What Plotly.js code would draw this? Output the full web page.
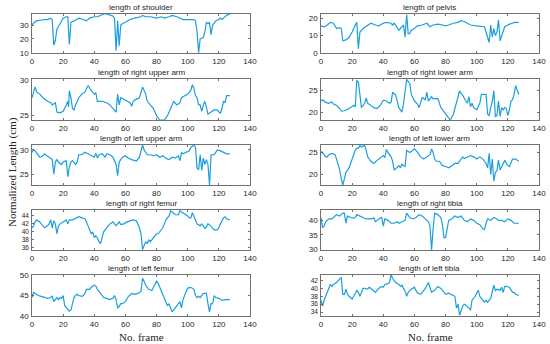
<!DOCTYPE html>
<html><head><meta charset="utf-8">
<script src="https://cdn.plot.ly/plotly-3.0.1.min.js"></script>
<style>html,body{margin:0;padding:0;background:#fff}#chart{width:550px;height:344px}</style>
</head><body><div id="chart"></div>
<script>
const subplotTitles = ["length of shoulder","length of pelvis","length of right upper arm","length of right lower arm","length of left upper arm","length of left lower arm","length of right femur","length of right tibia","length of left femur","length of left tibia"];
const xTickVals = [0,20,40,60,80,100,120,140];

const shoulderX = [0,1,3,5,8,10,12,13,14,15,16,18,20,22,23,24,25,27,30,33,35,37,40,42,44,46,48,50,52,53,54,55,56,57,58,60,63,66,70,71,73,76,80,83,85,88,90,93,95,97,100,104,105,106,107,108,110,111,112,113,114,115,116,118,120,121,122,124,125,127];
const shoulderY = [30,31.5,33,33.5,34,34,35,34,15.5,19,27,31,35,36,36,16,32,33,35,34,33,35,36,36,37,38,38,37.5,36.5,35,11.5,33,15,30,31,32,34,35,36,37,36,36,35,36,35,36,37,36,35,34,34,34,33,25,10,20,21,25,32,31,32,23,30,33,34,35,34,36,37,38];

const pelvisX = [0,2,4,6,8,9,10,12,13,14,16,18,20,22,23,24,25,27,30,32,35,37,40,42,45,46,47,49,50,52,53,54,55,56,57,58,60,62,65,68,70,72,75,78,80,82,85,88,90,92,94,96,100,103,105,106,107,108,109,110,111,112,113,114,115,117,118,120,121,123,124,127];
const pelvisY = [15.5,15,16,17.5,17,15,14,14.5,14,7,7.5,9,12,16,17.5,2.5,12,14,16,17,16,15.5,17,17.5,17,16,17,14,13,15,16,9,22,11,11,13,14,15.5,16,17,15,16,16.5,16,15.5,16,17,17.5,18.5,18,17,16,15.5,15,15,12,9,6,16,9,14,10,12,19,7,12,15,16,16.5,17,17.5,17.5];

const rUpperArmX = [0,2,3,5,7,10,12,13,15,16,18,20,22,23,23.5,24,25,26,27,28,30,32,34,36,38,40,41,42,45,48,50,52,54,55,56,57,59,61,63,64,65,67,69,71,73,74,76,78,80,82,85,87,89,91,93,95,96,98,100,102,103,104,105,106,107,108,109,110,111,112,113,115,117,119,121,122,123,124,125,127];
const rUpperArmY = [27.5,29,28.3,28,27.5,27,26.8,26.5,26.8,25.5,25.4,25.6,26.5,27,26.2,28.5,27.5,26,25.8,26.5,27.5,28,28.3,29.2,28.5,28,28.2,27,27,26.8,26.5,26,25.5,28,26.5,27.5,27.3,27,26.8,26.3,27,27.3,27.5,29,28,27,26.5,26,25,24.4,24.4,25,26,27,26.5,26.8,27.5,27.8,28,28.5,29.3,28.8,27.8,27.5,26.5,26.5,25.6,26.5,27,26.2,25.2,25.5,25.8,25.8,25.3,26,27,26.8,27.8,27.8];

const rLowerArmX = [0,1,3,5,7,8,10,12,13,15,17,19,21,22,23,24,25,26,28,29,30,32,34,36,38,40,42,44,45,46,48,50,52,53,55,57,58,60,62,63,64,65,67,68,69,71,72,75,77,79,81,83,85,86,89,90,91,93,94,95,96,97,98,100,102,103,106,107,108,109,110,111,112,113,114,115,116,117,118,119,120,121,122,123,124,125,127];
const rLowerArmY = [22.5,22.8,22.2,22,22.3,21.8,21.5,20.8,20.2,20.3,20.6,21,21.5,21.2,27.2,26.8,23,21,22,23.2,22,21.5,21,20.8,21.5,22.7,22.5,22,22.2,24.5,23.8,21,20,22,27.4,26.5,24,22.5,21.8,21,22.5,23.3,22.8,24.5,22.5,23.5,23,23.1,21,20,19,18.2,19.5,21,24.8,24.2,23.8,22.5,22,23.5,21.2,22,21,20.5,22,24,24,19.5,19.2,21,22.5,24.8,19,19.2,22.5,19,21,20.5,21,20.8,19.2,20.5,22.5,22.8,24,26,24];

const lUpperArmX = [0,1,2,4,5,7,8,10,12,13,14,15,16,17,19,20,22,23,24,25,26,28,29,30,32,34,36,38,40,41,42,43,45,47,48,50,52,54,55,56,58,60,62,64,67,69,70,71,72,74,76,78,80,82,84,86,88,90,92,94,95,96,97,99,101,102,104,105,106,107,108,109,110,111,112,113,114,115,117,118,119,121,123,125,127];
const lUpperArmY = [29.5,30,29.8,29,28.5,28.8,29.2,28.7,28.3,28,25,27.5,28,27.5,27,27.5,27.8,24.5,26.5,27.5,27.8,27,27.5,29,29,29.5,29.2,28.8,28.5,29.3,28.3,29,29.2,28.5,29.2,29,28.5,27,24.7,27.5,28.5,28.8,28.3,28,27.7,28.5,29.5,31,30,29,29,28.8,29,28.5,28.8,28.3,28,28.5,28.3,28.8,27.8,29.5,29.2,29.5,29.8,30.5,31,30.5,26.2,26,29,25.8,28.3,27,28,27,22.8,29,29,29.5,30,29.8,29.5,29.2,29.2];

const lLowerArmX = [0,1,2,3,4,5,7,9,10,11,12,13,14,15,16,17,18,19,20,21,22,23,24,25,26,27,28,29,30,32,34,36,38,40,41,42,43,45,46,47,48,50,51,52,53,54,55,57,58,60,62,64,66,68,70,71,72,73,74,76,78,80,82,84,86,88,90,91,92,94,96,98,100,102,104,105,106,107,108,109,110,111,112,113,114,115,116,117,118,119,120,121,122,123,125,127];
const lLowerArmY = [25.2,25,24.5,24,24,24.5,24.8,24.5,23.5,22.5,21,19,17.6,19,20.5,21,21.5,22.5,23.5,25,25.5,26,26,26.6,26.2,26.5,26.6,25.5,24,23,22.5,23.2,23.8,24.3,23.8,25.7,25,24,23,21,21.3,22,21.5,22.3,22,21.8,25.5,25,25.2,25.8,25,24,23.5,24,24.5,25.8,25,23.5,23,23,22,21.8,21.5,22,22.5,22.5,23.5,24,23.6,24,24.3,24,23.5,24,23.5,23,22.5,21.5,24.8,20,23.5,18.5,20.5,20.8,23.3,21,21.8,22.5,23.2,22.5,22,21.8,22.5,23.5,23.5,23];

const rFemurX = [0,1,2,3,5,6,7,8,10,11,12,13,14,15,16,17,18,20,22,23,24,26,28,30,32,34,35,36,37,38,39,40,41,42,43,44,45,46,48,50,52,54,55,56,57,59,61,63,65,67,68,69,70,71,72,73,74,75,76,77,78,80,81,82,84,85,86,88,89,90,91,92,94,95,96,98,100,101,102,103,104,105,106,108,109,110,111,112,113,114,115,116,117,119,120,121,122,123,124,125,127];
const rFemurY = [41,41.5,42.5,43,42.5,42,41.5,41,41.5,42,43,41,42.8,42,39.5,41.5,42,42.5,43,42,43,43,43.5,43.8,43.5,43.3,42.5,41.5,40,39.5,40,38.5,39,38.5,37.5,37,38.5,40,41,42,42.5,41.5,42,42.5,41.8,42,42.5,42.8,43,42.8,42,41,39.5,35.5,36.5,37.5,37,38,37.5,38,38.5,39.5,39.5,40,41,42,43,44,45.3,45,44.5,44.3,44.3,45.3,45,44.5,44,43.5,43.5,44.8,44,43,42,41.5,42,41.5,40.8,41.2,42,41.8,41.3,41,40.5,40.5,41,42,43,43.5,43.8,43.3,43];

const rTibiaX = [0,1,2,3,5,7,8,10,12,14,15,16,17,19,21,22,23,25,27,29,32,34,35,37,39,40,41,43,45,47,49,50,52,54,55,57,59,61,63,65,67,69,70,71,72,73,75,77,78,79,80,81,82,84,86,88,90,92,94,96,98,100,102,104,105,106,107,109,111,113,114,116,118,120,122,124,127];
const rTibiaY = [41,37.5,38,39.5,40.5,40.5,41,42,41.5,42.5,42.5,39,41.5,41,40.8,41,42,41.5,41,40.5,40.5,40.8,39.5,40.5,41,38,40.5,40,39,39,39.5,39,39.5,40,42.5,41,40.5,41,42,41.5,40.5,39.5,38,29.7,37,42.5,42,41,38.5,34,34,37.5,40,40.5,41.5,41,41.5,40,39.5,40.5,40,39,38.5,37,36.8,39,40.5,40,41,40.5,40,40,39.5,40.5,40,39,39];

const lFemurX = [0,1,2,4,6,8,10,12,13,14,15,16,17,18,19,20,21,22,23,24,25,26,27,28,29,30,32,33,34,35,37,38,40,41,42,44,45,46,48,50,52,53,54,55,56,57,58,60,62,64,66,68,70,71,72,73,75,77,78,80,81,82,84,86,87,88,89,90,91,93,95,96,97,99,100,102,104,105,106,107,108,110,112,113,114,115,116,117,118,120,121,122,124,127];
const lFemurY = [44.5,45.8,45.5,45,44.8,44.5,44.3,44.5,44.8,43.5,44,44.5,44,44.5,44.3,45,42.5,42,41.5,41.2,41.5,43,44.5,45,45.3,45,44.8,45,45.5,46.5,46.5,47,47.5,47.3,46.5,45.5,45,44.5,44.3,44,44.3,45,44,42,42.3,43,43,43.5,44.8,45.5,45.3,45.5,46,49.2,48.5,47.5,46.5,46.2,47,48.5,48,47,45.5,43.5,42.5,43,42,41,41.5,42.5,43.5,42,44,46,46.8,47,46.5,45,44.5,44.8,44.5,45.5,45.5,43,41,43,43,45,44.5,44.3,44,43.8,44,44];

const lTibiaX = [0,1,2,3,4,5,6,7,8,10,11,12,13,14,15,16,17,18,19,20,21,22,23,24,25,26,27,28,30,31,32,34,35,37,39,40,41,43,44,45,46,48,50,51,52,53,54,55,56,58,60,61,62,64,65,66,67,69,70,71,73,75,77,78,79,80,82,84,86,87,88,89,90,91,92,93,95,96,97,98,99,101,102,103,105,106,107,109,110,111,112,113,115,116,117,118,119,121,123,124,125,127];
const lTibiaY = [37,35.5,37,38,39,40.5,41,40.5,41,41.5,42,42.5,42.8,38.5,38.5,39.8,38.5,38,37.5,37.3,38,39,39.5,39,38,39,40,40,39.8,40.3,40,39.5,39,40,40.5,40.3,41,41.2,41.5,43.5,42.5,41.5,41,40.5,40.8,40,39.3,38,39,39.8,40.3,39.5,38.8,38.5,39,39.5,40,41.5,40,39,39.5,40.5,40,39.5,39,38.5,38.8,38.5,38,35,36,33.2,34.5,35.5,36,35.8,35,34.5,37,37.5,38,39.5,38,37.5,36.5,37,36.5,37.5,39,40.8,39.5,39.8,39.5,40.3,39,40.5,40.5,40.3,39,39,38.5,38.2];

const yTickVals = [[10,20,30],[0,10,20],[25,30],[20,25],[25,30],[20,25],[36,38,40,42,44],[30,35,40],[40,45,50],[34,36,38,40,42]];
const yRanges = [[9.8,38],[0,22.3],[24.4,30.1],[18.2,27.5],[22.8,31],[17.6,26.7],[35.4,45.5],[29.7,43.6],[40,50],[33,43.4]];

const seriesX = [shoulderX,pelvisX,rUpperArmX,rLowerArmX,lUpperArmX,lLowerArmX,rFemurX,rTibiaX,lFemurX,lTibiaX];
const seriesY = [shoulderY,pelvisY,rUpperArmY,rLowerArmY,lUpperArmY,lLowerArmY,rFemurY,rTibiaY,lFemurY,lTibiaY];

const W = 550, H = 344;
const colPx = [[32,250],[321,539]];
const rowPx = [[14,53],[79,120],[145,185],[210,250],[275,316]];
const sansFont = 'Liberation Sans, Arial, sans-serif';
const serifFont = 'Liberation Serif, Times New Roman, serif';

const data = [];
const layout = {
  width: W, height: H, margin: {l:0,r:0,t:0,b:0},
  paper_bgcolor: '#fff', plot_bgcolor: '#fff', showlegend: false,
  font: {family: sansFont, size: 8, color: '#262626'},
  annotations: []
};
for (let i = 0; i < 10; i++) {
  const col = i % 2, row = Math.floor(i / 2);
  const n = i + 1;
  const xa = n === 1 ? 'x' : 'x' + n, ya = n === 1 ? 'y' : 'y' + n;
  data.push({x: seriesX[i], y: seriesY[i], xaxis: xa, yaxis: ya, type: 'scatter', mode: 'lines',
    line: {color: '#1a9fdc', width: 1.2}, hoverinfo: 'skip'});
  const xd = [colPx[col][0] / W, colPx[col][1] / W];
  const yd = [1 - rowPx[row][1] / H, 1 - rowPx[row][0] / H];
  const dense = yTickVals[i].length > 3;
  const common = {showline: true, mirror: 'ticks', linecolor: '#4d4d4d', linewidth: 0.8,
    ticks: 'inside', ticklen: 2, tickcolor: '#4d4d4d', tickwidth: 0.8, showgrid: false, zeroline: false,
    fixedrange: true};
  layout['xaxis' + (n === 1 ? '' : n)] = Object.assign({}, common, {domain: xd, range: [0,140], tickvals: xTickVals,
    anchor: ya, ticklabelstandoff: 1, tickfont: {size: 8, color: '#262626', family: sansFont}});
  layout['yaxis' + (n === 1 ? '' : n)] = Object.assign({}, common, {domain: yd, range: yRanges[i], tickvals: yTickVals[i],
    anchor: xa, ticklabelstandoff: 1, tickfont: {size: dense ? 6.5 : 8, color: '#262626', family: sansFont}});
  layout.annotations.push({text: subplotTitles[i], xref: 'paper', yref: 'paper', x: (xd[0] + xd[1]) / 2,
    y: yd[1] + 6.5 / H, xanchor: 'center', yanchor: 'middle', showarrow: false,
    font: {size: 8, color: '#262626', family: sansFont}});
}
layout.annotations.push({text: 'Normalized Length (cm)', xref: 'paper', yref: 'paper', x: 12 / W, y: 1 - 172 / H,
  textangle: -90, showarrow: false, xanchor: 'center', yanchor: 'middle',
  font: {family: serifFont, size: 11, color: '#262626'}});
layout.annotations.push({text: 'No. frame', xref: 'paper', yref: 'paper', x: 141 / W, y: 1 - 337 / H,
  showarrow: false, xanchor: 'center', yanchor: 'middle',
  font: {family: serifFont, size: 11, color: '#262626'}});
layout.annotations.push({text: 'No. frame', xref: 'paper', yref: 'paper', x: 430 / W, y: 1 - 337 / H,
  showarrow: false, xanchor: 'center', yanchor: 'middle',
  font: {family: serifFont, size: 11, color: '#262626'}});

Plotly.newPlot('chart', data, layout, {displayModeBar: false, staticPlot: true});
</script>
</body></html>
